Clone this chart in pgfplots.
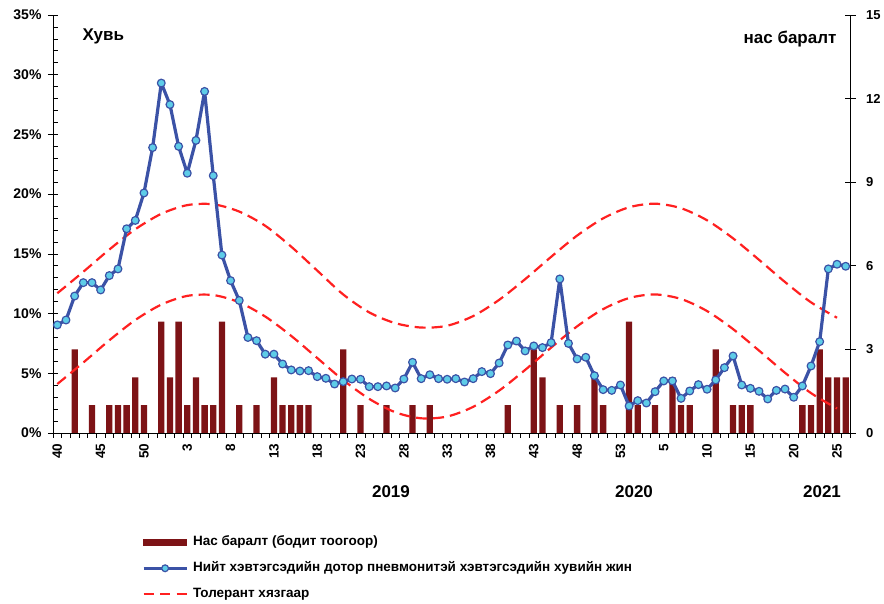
\documentclass[border=0pt]{standalone}
\usepackage{pgfplots}
\pgfplotsset{compat=1.18}
\usepackage{fontspec}
\setmainfont{Liberation Sans}
\definecolor{barred}{RGB}{125,19,22}
\definecolor{lineblue}{RGB}{59,82,166}
\definecolor{markfill}{RGB}{94,204,232}
\definecolor{tolred}{RGB}{255,32,32}
\newcommand{\tickfont}{\bfseries\fontsize{13}{13}\selectfont}
\pgfplotsset{
  base/.style={
    at={(0,0)}, anchor=south west,
    scale only axis, width=797pt, height=418pt,
    xmin=-0.5, xmax=91.5,
  },
  barlegend/.style={legend image code/.code={\fill[barred] (0pt,-3pt) rectangle (43pt,3pt);}},
  bluelegend/.style={legend image code/.code={\draw[mark repeat=2,mark phase=2,##1] plot coordinates {(0pt,0pt) (21.5pt,0pt) (43pt,0pt)};}},
  redlegend/.style={legend image code/.code={\draw[##1] (0pt,0pt) -- (43pt,0pt);}},
}
\begin{document}
\begin{tikzpicture}
% ---- bars on the right axis
\begin{axis}[base,
  ymin=0, ymax=15,
  hide x axis,
  axis y line*=right,
  ytick={0,3,...,15},
  yticklabels={0,3,6,9,12,15},
  tick align=center,
  major tick length=11pt,
  tick style={black, line width=0.7pt},
  yticklabel style={font=\tickfont, xshift=7pt},
  y axis line style={black, line width=0.8pt},
  ybar, bar width=6.3pt,
]
\addplot[fill=barred, draw=none] coordinates {
(2,3) (4,1) (6,1) (7,1) (8,1) (9,2) (10,1) (12,4) (13,2) (14,4) (15,1) (16,2)
(17,1) (18,1) (19,4) (21,1) (23,1) (25,2) (26,1) (27,1) (28,1) (29,1) (33,3)
(35,1) (38,1) (41,1) (43,1) (52,1) (55,3) (56,2) (58,1) (60,1) (62,2) (63,1)
(66,4) (67,1) (69,1) (71,2) (72,1) (73,1) (76,3) (78,1) (79,1) (80,1) (86,1)
(87,1) (88,3) (89,2) (90,2) (91,2)};
\end{axis}
% ---- lines on the left axis
\begin{axis}[base,
  ymin=0, ymax=35,
  hide x axis,
  axis y line*=left,
  ytick={0,5,...,35},
  yticklabels={0\%,5\%,10\%,15\%,20\%,25\%,30\%,35\%},
  minor ytick={0,1,...,35},
  tick align=outside,
  major tick length=10pt, minor tick length=5pt,
  tick style={xshift=5pt, black, line width=0.7pt},
  yticklabel style={font=\bfseries\fontsize{14}{14}\selectfont, xshift=2pt},
  y axis line style={black, line width=0.8pt},
  clip=false,
  legend style={at={(axis description cs:0.1117,-0.243)}, anchor=north west,
    draw=none, fill=none, font=\bfseries\fontsize{13.5}{14}\selectfont,
    row sep=11pt, column sep=4pt, inner sep=0pt,
    nodes={text height=10pt, text depth=3pt, inner sep=1pt}},
  legend cell align=left,
]
\addlegendimage{barlegend}
\addlegendentry{Нас баралт (бодит тоогоор)}
\addlegendimage{bluelegend, lineblue, line width=2.8pt, mark=*, mark size=3.4pt,
  mark options={fill=markfill, draw=lineblue, line width=1.2pt}}
\addlegendentry{Нийт хэвтэгсэдийн дотор пневмонитэй хэвтэгсэдийн хувийн жин}
\addlegendimage{redlegend, tolred, line width=2.2pt, dash pattern=on 10pt off 6.5pt}
\addlegendentry{Толерант хязгаар}
% tolerance limits
\addplot[forget plot, tolred, line width=2.2pt, dash pattern=on 11pt off 6pt, smooth] coordinates {
(0,11.70) (3,13.50) (6,15.36) (9,17.06) (12,18.35) (15,19.08) (18,19.15) (21,18.54)
(24,17.35) (27,15.6) (30,13.6) (33,11.6) (36,10.1) (39,9.2) (42,8.83) (45,8.98)
(48,9.79) (51,11.15) (54,12.88) (57,14.75) (60,16.53) (63,17.97) (66,18.90) (69,19.20)
(72,18.82) (75,17.81) (78,16.30) (81,14.50) (84,12.64) (87,10.94) (90,9.65)};
\addplot[forget plot, tolred, line width=2.2pt, dash pattern=on 11pt off 6pt, smooth] coordinates {
(0,4.10) (3,5.90) (6,7.76) (9,9.46) (12,10.75) (15,11.48) (18,11.55) (21,10.94)
(24,9.75) (27,8.13) (30,6.28) (33,4.43) (36,2.86) (39,1.74) (42,1.23) (45,1.38)
(48,2.19) (51,3.55) (54,5.28) (57,7.15) (60,8.93) (63,10.37) (66,11.30) (69,11.60)
(72,11.22) (75,10.21) (78,8.70) (81,6.90) (84,5.04) (87,3.34) (90,2.05)};
% pneumonia share
\addplot[forget plot, lineblue, line width=3.2pt, line join=round, mark=*, mark size=3.9pt,
  mark options={fill=markfill, draw=lineblue, line width=1.2pt}] coordinates {
(0,9.05) (1,9.46) (2,11.47) (3,12.59) (4,12.59) (5,11.98) (6,13.18) (7,13.74)
(8,17.1) (9,17.8) (10,20.1) (11,23.9) (12,29.3) (13,27.5) (14,24.0) (15,21.75)
(16,24.5) (17,28.6) (18,21.55) (19,14.9) (20,12.76) (21,11.1) (22,8.0) (23,7.73)
(24,6.6) (25,6.6) (26,5.78) (27,5.28) (28,5.19) (29,5.22) (30,4.72) (31,4.58)
(32,4.10) (33,4.3) (34,4.52) (35,4.5) (36,3.88) (37,3.88) (38,3.94) (39,3.77)
(40,4.52) (41,5.92) (42,4.55) (43,4.88) (44,4.55) (45,4.5) (46,4.55) (47,4.27)
(48,4.55) (49,5.14) (50,4.97) (51,5.86) (52,7.37) (53,7.7) (54,6.87) (55,7.29)
(56,7.15) (57,7.57) (58,12.9) (59,7.5) (60,6.2) (61,6.34) (62,4.8) (63,3.63)
(64,3.57) (65,4.02) (66,2.26) (67,2.71) (68,2.51) (69,3.46) (70,4.36) (71,4.36)
(72,2.9) (73,3.52) (74,4.05) (75,3.66) (76,4.44) (77,5.47) (78,6.45) (79,4.02)
(80,3.74) (81,3.49) (82,2.85) (83,3.57) (84,3.68) (85,2.99) (86,3.94) (87,5.61)
(88,7.65) (89,13.74) (90,14.13) (91,13.96)};
\end{axis}
% ---- category axis
\begin{axis}[base,
  ymin=0, ymax=1,
  hide y axis,
  axis x line*=bottom,
  xtick={0,5,...,90},
  xticklabels={40,45,50,3,8,13,18,23,28,33,38,43,48,53,5,10,15,20,25},
  minor xtick={-0.5,0.5,...,91.5},
  tick align=outside,
  major tick length=0pt, minor tick length=5pt,
  tick style={black, line width=0.7pt},
  xticklabel style={font=\bfseries\fontsize{13.5}{14}\selectfont, rotate=90, anchor=east},
  xticklabel shift=7pt,
  x axis line style={black, line width=0.8pt},
]
\addplot[forget plot, draw=none] coordinates {(0,0)};
\end{axis}
\node[anchor=base west, font=\bfseries\fontsize{17}{17}\selectfont] at (26pt,392.3pt) {Хувь};
\node[anchor=base east, font=\bfseries\fontsize{17}{17}\selectfont] at (787pt,389pt) {нас баралт};
\node[anchor=base, font=\bfseries\fontsize{17}{17}\selectfont] at (338pt,-65pt) {2019};
\node[anchor=base, font=\bfseries\fontsize{17}{17}\selectfont] at (581pt,-65pt) {2020};
\node[anchor=base, font=\bfseries\fontsize{17}{17}\selectfont] at (769pt,-65pt) {2021};
\pgfresetboundingbox
\path[use as bounding box] (-53pt,-171pt) rectangle (831pt,433pt);
\end{tikzpicture}
\end{document}
